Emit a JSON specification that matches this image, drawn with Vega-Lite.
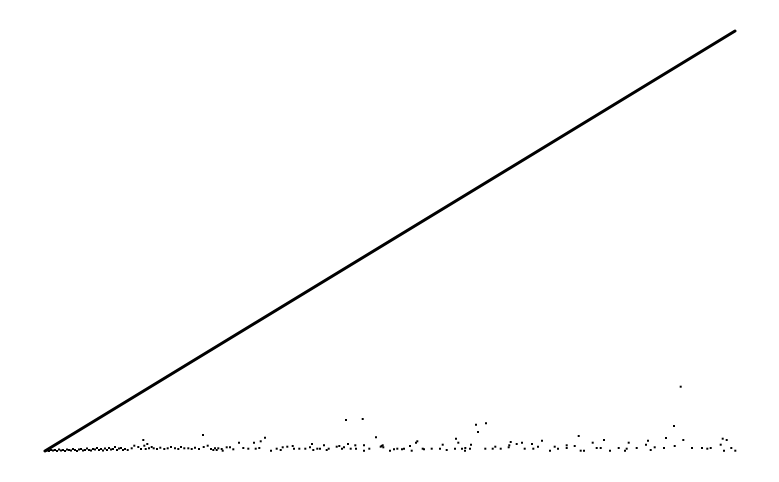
{
  "$schema": "https://vega.github.io/schema/vega-lite/v6.json",
  "autosize": "none",
  "width": 690,
  "height": 420,
  "padding": {"left": 45, "top": 31, "right": 44, "bottom": 31},
  "background": "white",
  "config": {"view": {"stroke": null}},
  "datasets": {
    "line": [{"x": 0, "y": 0}, {"x": 690, "y": 420}],
    "pts": [
      {"x":2,"y":0.5},{"x":4,"y":0},{"x":6,"y":1},{"x":8,"y":0.5},{"x":10,"y":1},{"x":12,"y":0},{"x":14,"y":1.5},{"x":16,"y":0.5},{"x":18,"y":1},{"x":20,"y":0},
      {"x":22,"y":1.5},{"x":24,"y":1},{"x":26,"y":0.5},{"x":28,"y":2},{"x":30,"y":1},{"x":32,"y":0},{"x":34,"y":1.5},{"x":36,"y":2},{"x":38,"y":0.5},{"x":40,"y":1},
      {"x":42,"y":2.5},{"x":44,"y":1},{"x":46,"y":0.5},{"x":48,"y":2},{"x":50,"y":1.5},{"x":52,"y":3},{"x":54,"y":1},{"x":56,"y":2},{"x":58,"y":0.5},{"x":60,"y":2.5},
      {"x":62,"y":1},{"x":64,"y":3},{"x":66,"y":1.5},{"x":68,"y":2},{"x":70,"y":4},{"x":72,"y":1},{"x":74,"y":2.5},{"x":76,"y":3},{"x":78,"y":1},{"x":80,"y":2},
      {"x":82.7,"y":1},{"x":86.7,"y":2.7},{"x":89.3,"y":5.3},{"x":93.3,"y":4},{"x":96,"y":2},{"x":98.3,"y":11},{"x":99.3,"y":5.3},{"x":100.7,"y":2},{"x":102.3,"y":7},{"x":104,"y":2.7},
      {"x":106.7,"y":4},{"x":108.7,"y":2.7},{"x":112,"y":2},{"x":115.3,"y":3.3},{"x":119.3,"y":2},{"x":122.7,"y":2.7},{"x":126,"y":4},{"x":130,"y":2.7},{"x":133.3,"y":2},{"x":136,"y":4},
      {"x":139.3,"y":2.7},{"x":143.3,"y":2.7},{"x":146.7,"y":2},{"x":150,"y":3.3},{"x":154,"y":2},{"x":158,"y":16},{"x":158.7,"y":4},{"x":162.7,"y":5.3},{"x":166,"y":2},{"x":170,"y":2.7},
      {"x":173.3,"y":2.7},{"x":176.7,"y":2},{"x":168.3,"y":1},{"x":171.7,"y":1},{"x":177.7,"y":0.3},{"x":181.7,"y":3.7},{"x":185,"y":3.7},{"x":188.3,"y":1.7},{"x":194,"y":8.3},{"x":198.3,"y":3},
      {"x":203.3,"y":2.3},{"x":209,"y":8.3},{"x":210.7,"y":2.3},{"x":214.3,"y":3},{"x":215.7,"y":9.7},{"x":220,"y":13.3},{"x":226,"y":0.3},{"x":231.7,"y":2.3},{"x":235.7,"y":1},{"x":237.7,"y":3.7},
      {"x":242.3,"y":4.3},{"x":247.7,"y":5},{"x":249,"y":2.3},{"x":254.3,"y":2.3},{"x":260.3,"y":2.3},{"x":265,"y":3.7},{"x":267,"y":7},{"x":268.3,"y":1},{"x":272.3,"y":2.3},{"x":275,"y":2.3},
      {"x":279,"y":5.7},{"x":281.7,"y":1},{"x":283.7,"y":2.3},{"x":291.7,"y":4.3},{"x":294.3,"y":5},{"x":297,"y":2.3},{"x":299,"y":3.7},{"x":301,"y":31},{"x":303,"y":7},{"x":305.7,"y":2.3},
      {"x":310.3,"y":5.7},{"x":311,"y":2.3},{"x":317.7,"y":32},{"x":319,"y":5.7},{"x":319,"y":0.3},{"x":324.3,"y":2.3},{"x":331,"y":13.7},{"x":335.7,"y":4.3},{"x":337.7,"y":5.7},{"x":336.7,"y":5},
      {"x":338.3,"y":3.7},{"x":345,"y":0.3},{"x":349,"y":1.7},{"x":352.3,"y":2.3},{"x":357,"y":1.7},{"x":359,"y":2.3},{"x":365,"y":5},{"x":366.7,"y":0.3},{"x":371,"y":8.3},{"x":372.3,"y":9.7},
      {"x":377.7,"y":2.3},{"x":379,"y":1.7},{"x":386.7,"y":2.3},{"x":395,"y":2.3},{"x":397.7,"y":6.3},{"x":401.7,"y":1},{"x":410,"y":2.3},{"x":411,"y":12.3},{"x":413.3,"y":8.3},{"x":417,"y":2.3},
      {"x":420,"y":0.3},{"x":420.3,"y":3},{"x":425,"y":2.3},{"x":426,"y":6.3},{"x":431,"y":26.3},{"x":433,"y":19},{"x":440.3,"y":2.3},{"x":441,"y":27.7},{"x":447.7,"y":2.3},{"x":450.3,"y":4.3},
      {"x":455.7,"y":2.3},{"x":463.7,"y":3.7},{"x":464.3,"y":5.7},{"x":465.7,"y":9},{"x":471.7,"y":7},{"x":477,"y":8.3},{"x":479.7,"y":2.3},{"x":487,"y":7},{"x":488.3,"y":2.3},{"x":493,"y":4.3},
      {"x":497,"y":10.3},{"x":505,"y":0.3},{"x":509.7,"y":4.3},{"x":513,"y":2.3},{"x":521.7,"y":5.7},{"x":521.7,"y":3},{"x":529.7,"y":5},{"x":533.7,"y":15},{"x":535.7,"y":0.3},{"x":539,"y":0.3},
      {"x":547.7,"y":8.3},{"x":551.7,"y":3},{"x":555.7,"y":3},{"x":559,"y":11},{"x":565,"y":0.3},{"x":573.7,"y":3},{"x":580,"y":0.3},{"x":581.7,"y":2.3},{"x":583.7,"y":8.3},{"x":591.7,"y":3},
      {"x":601,"y":6.3},{"x":603,"y":10.3},{"x":605.7,"y":1},{"x":609.7,"y":3.7},{"x":619,"y":3},{"x":621,"y":13},{"x":629,"y":25},{"x":629.7,"y":5},{"x":635.7,"y":64.3},{"x":638.3,"y":11},
      {"x":647,"y":3},{"x":657,"y":3},{"x":662.3,"y":2.3},{"x":665.7,"y":3},{"x":675.7,"y":6.3},{"x":677.7,"y":12.3},{"x":679,"y":0.3},{"x":681.7,"y":11},{"x":686.3,"y":3},{"x":690.3,"y":0.3}
    ]
  },
  "layer": [
    {
      "data": {"name": "pts"},
      "mark": {"type": "point", "shape": "square", "filled": true, "size": 4, "color": "black", "opacity": 1},
      "encoding": {
        "x": {"field": "x", "type": "quantitative", "scale": {"domain": [0, 690], "nice": false, "zero": false}, "axis": null},
        "y": {"field": "y", "type": "quantitative", "scale": {"domain": [0, 420], "nice": false, "zero": false}, "axis": null}
      }
    },
    {
      "data": {"name": "line"},
      "mark": {"type": "line", "color": "black", "strokeWidth": 3, "strokeCap": "round"},
      "encoding": {
        "x": {"field": "x", "type": "quantitative", "scale": {"domain": [0, 690], "nice": false, "zero": false}, "axis": null},
        "y": {"field": "y", "type": "quantitative", "scale": {"domain": [0, 420], "nice": false, "zero": false}, "axis": null}
      }
    }
  ]
}
